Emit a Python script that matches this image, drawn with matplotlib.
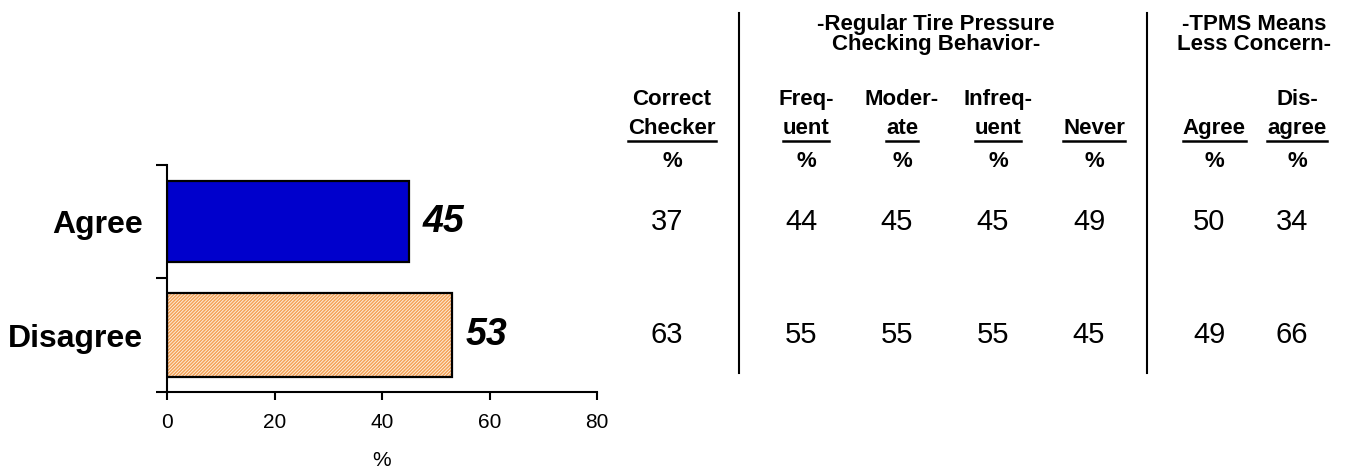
#!/usr/bin/env python3
"""
TPMS concern chart: bar panel on the left, breakdown table on the right
"""

import matplotlib
matplotlib.use("Agg")
import matplotlib.pyplot as plt
from matplotlib.lines import Line2D
from matplotlib.transforms import blended_transform_factory

plt.rcParams['font.family'] = ['Liberation Sans', 'DejaVu Sans']
plt.rcParams['hatch.linewidth'] = 0.6

# Data
categories = ["Agree", "Disagree"]
totals = [45, 53]
xticks = [0, 20, 40, 60, 80]

group_titles = ["-Regular Tire Pressure\nChecking Behavior-", "-TPMS Means\nLess Concern-"]
col_top = ["Correct", "Freq-", "Moder-", "Infreq-", "", "", "Dis-"]
col_bottom = ["Checker", "uent", "ate", "uent", "Never", "Agree", "agree"]
agree_vals = [37, 44, 45, 45, 49, 50, 34]
disagree_vals = [63, 55, 55, 55, 45, 49, 66]

W, H = 1347, 473


def fx(px):
    return px / W


def fy(py):
    return 1 - py / H


fig = plt.figure(figsize=(W / 100, H / 100), dpi=100, facecolor='white')
ax = fig.add_axes([fx(167), fy(392), fx(597) - fx(167), fy(165) - fy(392)])

ypos = list(range(len(categories)))
# agree bar solid blue
ax.barh(ypos[0], totals[0], height=0.71, color='#0000CC', edgecolor='black', linewidth=1.6)
# disagree bar: orange with fine white hatch, then a black outline on top
ax.barh(ypos[1], totals[1], height=0.74, color='#F4A256', edgecolor='#FFF4E8',
        hatch='//////////', linewidth=0)
ax.barh(ypos[1], totals[1], height=0.74, fill=False, edgecolor='black', linewidth=1.6)

for y, v in zip(ypos, totals):
    ax.text(v + 2.6, y, str(v), va='center', ha='left', fontsize=27,
            fontweight='bold', fontstyle='italic')

ax.set_xlim(0, 80)
ax.set_ylim(1.5, -0.5)
ax.set_xticks(xticks)
ax.set_xticklabels([str(t) for t in xticks], fontsize=15)
ax.set_yticks(ypos)
ax.set_yticklabels(categories, fontsize=23, fontweight='bold')
ax.set_yticks([-0.5, 0.5, 1.5], minor=True)
ax.tick_params(axis='y', which='major', length=0, pad=17)
ax.tick_params(axis='y', which='minor', length=8, width=1.5, direction='out')
ax.tick_params(axis='x', length=6, width=1.5, direction='out', pad=9)
ax.set_xlabel('%', fontsize=15, labelpad=14)
for s in ['top', 'right']:
    ax.spines[s].set_visible(False)
for s in ['left', 'bottom']:
    ax.spines[s].set_linewidth(1.5)

# Table on the right
col_x = [667, 801, 897, 993, 1089, 1209, 1292]
row_tr = blended_transform_factory(fig.transFigure, ax.transData)
for x, a, d in zip(col_x, agree_vals, disagree_vals):
    fig.text(fx(x), ypos[0], str(a), transform=row_tr, ha='center', va='center', fontsize=21)
    fig.text(fx(x), ypos[1], str(d), transform=row_tr, ha='center', va='center', fontsize=21)

hx = [x + 5 for x in col_x]
hx[0] = 672
bottom_texts = []
for x, t1, t2 in zip(hx, col_top, col_bottom):
    if t1:
        fig.text(fx(x), fy(105), t1, ha='center', va='baseline', fontsize=16, fontweight='bold')
    bottom_texts.append(fig.text(fx(x), fy(134), t2, ha='center', va='baseline',
                                 fontsize=16, fontweight='bold'))
    fig.text(fx(x), fy(167), '%', ha='center', va='baseline', fontsize=16, fontweight='bold')

for cx, title in zip([936, 1254], group_titles):
    line1, line2 = title.split('\n')
    fig.text(fx(cx), fy(30), line1, ha='center', va='baseline', fontsize=16, fontweight='bold')
    fig.text(fx(cx), fy(50), line2, ha='center', va='baseline', fontsize=16, fontweight='bold')

# separators
for x in [739, 1147]:
    fig.add_artist(Line2D([fx(x), fx(x)], [fy(13), fy(373)], color='black', linewidth=1.5))

# underline the second header line
fig.canvas.draw()
renderer = fig.canvas.get_renderer()
for t in bottom_texts:
    bb = t.get_window_extent(renderer)
    fig.add_artist(Line2D([fx(bb.x0), fx(bb.x1)], [fy(141), fy(141)], color='black',
                          linewidth=1.8))

fig.savefig('out.png', dpi=100, facecolor='white')
